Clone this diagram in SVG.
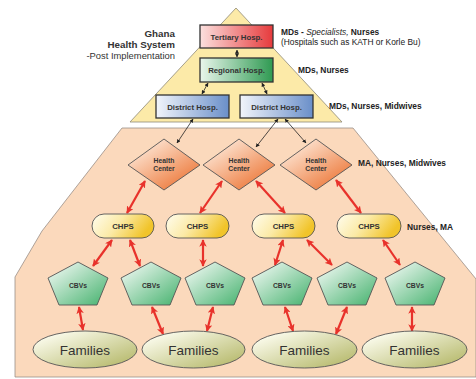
<svg xmlns="http://www.w3.org/2000/svg" width="476" height="379" viewBox="0 0 476 379">
<defs>
<linearGradient id="gT" x1="0" y1="0" x2="1" y2="0"><stop offset="0" stop-color="#fbe0de"/><stop offset="1" stop-color="#e63a3c"/></linearGradient>
<linearGradient id="gR" x1="0" y1="0" x2="1" y2="0"><stop offset="0" stop-color="#eaf6ec"/><stop offset="1" stop-color="#2f9a52"/></linearGradient>
<linearGradient id="gD" x1="0" y1="0" x2="1" y2="0"><stop offset="0" stop-color="#f2f5fb"/><stop offset="1" stop-color="#6a8fc9"/></linearGradient>
<linearGradient id="gH" x1="0.2" y1="0.1" x2="0.9" y2="0.9"><stop offset="0" stop-color="#fde6d4"/><stop offset="1" stop-color="#ec7434"/></linearGradient>
<linearGradient id="gC" x1="0" y1="0" x2="1" y2="0.3"><stop offset="0" stop-color="#fffdf0"/><stop offset="0.5" stop-color="#fbeaa6"/><stop offset="1" stop-color="#f1c42a"/></linearGradient>
<linearGradient id="gV" x1="0.1" y1="0.1" x2="0.9" y2="0.9"><stop offset="0" stop-color="#eaf6ee"/><stop offset="1" stop-color="#56b97b"/></linearGradient>
<linearGradient id="gF" x1="0.1" y1="0.1" x2="0.9" y2="0.9"><stop offset="0" stop-color="#fdfdf0"/><stop offset="1" stop-color="#b8bb6f"/></linearGradient>
<marker id="mr" viewBox="0 0 10 10" refX="9" refY="5" markerWidth="3.4" markerHeight="3.4" orient="auto-start-reverse" markerUnits="strokeWidth"><path d="M0,0 L10,5 L0,10 L2.5,5 z" fill="#e8322b"/></marker>
<marker id="mb" viewBox="0 0 10 10" refX="9" refY="5" markerWidth="5" markerHeight="5" orient="auto-start-reverse" markerUnits="strokeWidth"><path d="M0,0 L10,5 L0,10 z" fill="#222"/></marker>
</defs>
<style>
text{font-family:"Liberation Sans",Arial,sans-serif;fill:#333}
.b{font-weight:bold}
.box{stroke:#333;stroke-width:1.3}
.shape{stroke:#555;stroke-width:0.9}
.lab{font-size:7.8px;font-weight:bold;text-anchor:middle}
.hc{font-size:6.8px;font-weight:bold;text-anchor:middle}
.side{font-size:8.4px;fill:#222}
.red{stroke:#e8322b;stroke-width:2.2;fill:none;marker-start:url(#mr);marker-end:url(#mr)}
.blk{stroke:#222;stroke-width:0.8;fill:none;marker-start:url(#mb);marker-end:url(#mb)}
</style>
<rect width="476" height="379" fill="#ffffff"/>
<g id="background">
<polygon points="122,128 353,128 476,279 476,377 15,377 15,277 42,231" fill="#fbd9bc" stroke="#9a8f88" stroke-width="0.8"/>
<polygon points="236,8 342,122 130,122" fill="#fceaa8" stroke="#8f8a78" stroke-width="0.8"/>
</g>
<g id="title">
<text x="175" y="37" text-anchor="end" class="b" font-size="9.8px">Ghana</text>
<text x="175" y="48" text-anchor="end" class="b" font-size="9.8px">Health System</text>
<text x="175" y="59" text-anchor="end" font-size="9.4px">-Post Implementation</text>
</g>
<g id="side-labels">
<text x="281" y="35" class="side"><tspan class="b">MDs - </tspan><tspan font-style="italic">Specialists,</tspan><tspan class="b"> Nurses</tspan></text>
<text x="281" y="45" class="side" font-size="8px">(Hospitals such as KATH or Korle Bu)</text>
<text x="298" y="73" class="side b">MDs, Nurses</text>
<text x="329" y="109" class="side b">MDs, Nurses, Midwives</text>
<text x="358" y="166" class="side b">MA, Nurses, Midwives</text>
<text x="407" y="230" class="side b">Nurses, MA</text>
</g>
<g id="connectors">
<line class="blk" x1="237" y1="50" x2="237" y2="57"/>
<line class="blk" x1="208" y1="83" x2="202" y2="94"/>
<line class="blk" x1="262" y1="83" x2="267" y2="94"/>
<line class="blk" x1="193" y1="119" x2="177" y2="143"/>
<line class="blk" x1="278" y1="119" x2="256" y2="147"/>
<line class="blk" x1="285" y1="119" x2="306" y2="143"/>
<line class="red" x1="145" y1="181" x2="127" y2="213"/>
<line class="red" x1="222" y1="181" x2="200" y2="213"/>
<line class="red" x1="256" y1="181" x2="285" y2="213"/>
<line class="red" x1="336" y1="180" x2="361" y2="213"/>
<line class="red" x1="112" y1="240" x2="93" y2="266"/>
<line class="red" x1="130" y1="240" x2="140" y2="266"/>
<line class="red" x1="203" y1="240" x2="203" y2="266"/>
<line class="red" x1="283" y1="240" x2="275" y2="265"/>
<line class="red" x1="307" y1="240" x2="332" y2="265"/>
<line class="red" x1="383" y1="240" x2="400" y2="265"/>
<line class="red" x1="79" y1="307" x2="83" y2="330"/>
<line class="red" x1="152" y1="307" x2="163" y2="334"/>
<line class="red" x1="213" y1="307" x2="207" y2="331"/>
<line class="red" x1="285" y1="307" x2="293" y2="331"/>
<line class="red" x1="347" y1="307" x2="336" y2="334"/>
<line class="red" x1="412" y1="307" x2="412" y2="331"/>
</g>
<g id="tertiary"><rect class="box" x="200" y="25" width="73" height="23" fill="url(#gT)"/><text class="lab" x="236.5" y="39.5">Tertiary Hosp.</text></g>
<g id="regional"><rect class="box" x="200" y="58" width="73" height="24" fill="url(#gR)"/><text class="lab" x="236.5" y="73">Regional Hosp.</text></g>
<g id="district1"><rect class="box" x="156" y="95" width="73" height="23" fill="url(#gD)"/><text class="lab" x="192.5" y="109.5">District Hosp.</text></g>
<g id="district2"><rect class="box" x="240" y="95" width="73" height="23" fill="url(#gD)"/><text class="lab" x="276.5" y="109.5">District Hosp.</text></g>
<g id="hc1"><polygon class="shape" points="164,139 200,165 164,190 128,165" fill="url(#gH)"/><text class="hc" x="164" y="163">Health</text><text class="hc" x="164" y="171">Center</text></g>
<g id="hc2"><polygon class="shape" points="239,139 275,165 239,190 203,165" fill="url(#gH)"/><text class="hc" x="239" y="163">Health</text><text class="hc" x="239" y="171">Center</text></g>
<g id="hc3"><polygon class="shape" points="316,139 352,165 316,190 280,165" fill="url(#gH)"/><text class="hc" x="316" y="163">Health</text><text class="hc" x="316" y="171">Center</text></g>
<g id="chps1"><rect class="shape" x="92" y="214" width="62" height="24" rx="12" fill="url(#gC)"/><text class="lab" font-size="8.4px" x="123" y="229">CHPS</text></g>
<g id="chps2"><rect class="shape" x="166" y="214" width="63" height="24" rx="12" fill="url(#gC)"/><text class="lab" font-size="8.4px" x="197.5" y="229">CHPS</text></g>
<g id="chps3"><rect class="shape" x="252" y="214" width="63" height="24" rx="12" fill="url(#gC)"/><text class="lab" font-size="8.4px" x="283.5" y="229">CHPS</text></g>
<g id="chps4"><rect class="shape" x="337" y="214" width="64" height="24" rx="12" fill="url(#gC)"/><text class="lab" font-size="8.4px" x="369" y="229">CHPS</text></g>
<g id="cbv1"><polygon class="shape" points="78,262 108,278 97,305 59,305 48,278" fill="url(#gV)"/><text class="hc" x="78" y="288">CBVs</text></g>
<g id="cbv2"><polygon class="shape" points="151,262 181,278 170,305 132,305 121,278" fill="url(#gV)"/><text class="hc" x="151" y="288">CBVs</text></g>
<g id="cbv3"><polygon class="shape" points="215,262 245,278 234,305 196,305 185,278" fill="url(#gV)"/><text class="hc" x="215" y="288">CBVs</text></g>
<g id="cbv4"><polygon class="shape" points="282,262 312,278 301,305 263,305 252,278" fill="url(#gV)"/><text class="hc" x="282" y="288">CBVs</text></g>
<g id="cbv5"><polygon class="shape" points="347,262 377,278 366,305 328,305 317,278" fill="url(#gV)"/><text class="hc" x="347" y="288">CBVs</text></g>
<g id="cbv6"><polygon class="shape" points="415,262 445,278 434,305 396,305 385,278" fill="url(#gV)"/><text class="hc" x="415" y="288">CBVs</text></g>
<g id="fam1"><ellipse class="shape" cx="85" cy="349.5" rx="52" ry="18.5" fill="url(#gF)"/><text x="85" y="354.5" text-anchor="middle" font-size="13.5px">Families</text></g>
<g id="fam2"><ellipse class="shape" cx="193.5" cy="349.5" rx="51.5" ry="18.5" fill="url(#gF)"/><text x="193.5" y="354.5" text-anchor="middle" font-size="13.5px">Families</text></g>
<g id="fam3"><ellipse class="shape" cx="304.5" cy="349.5" rx="52.5" ry="18.5" fill="url(#gF)"/><text x="304.5" y="354.5" text-anchor="middle" font-size="13.5px">Families</text></g>
<g id="fam4"><ellipse class="shape" cx="414.5" cy="349.5" rx="52.5" ry="18.5" fill="url(#gF)"/><text x="414.5" y="354.5" text-anchor="middle" font-size="13.5px">Families</text></g>
</svg>
